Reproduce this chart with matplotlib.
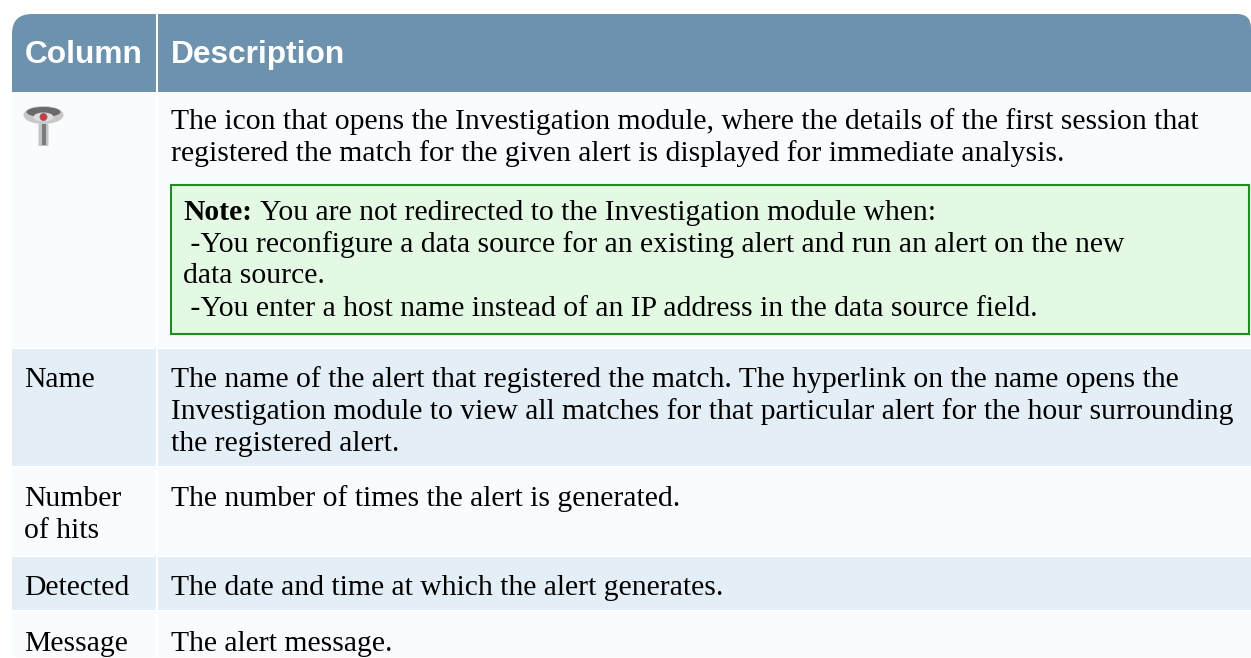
#!/usr/bin/env python3
import matplotlib
matplotlib.use("Agg")
import matplotlib.pyplot as plt
from matplotlib.patches import Rectangle, PathPatch, Ellipse, FancyBboxPatch
from matplotlib.path import Path

W, H = 1251, 658

HEADERS = ["Column", "Description"]
ROW_NAMES = ["", "Name", "Number\nof hits", "Detected", "Message"]
ROW_DESC = [
    "The icon that opens the Investigation module, where the details of the first session that\n"
    "registered the match for the given alert is displayed for immediate analysis.",
    "The name of the alert that registered the match. The hyperlink on the name opens the\n"
    "Investigation module to view all matches for that particular alert for the hour surrounding\n"
    "the registered alert.",
    "The number of times the alert is generated.",
    "The date and time at which the alert generates.",
    "The alert message.",
]
NOTE_LINES = [
    "You are not redirected to the Investigation module when:",
    " -You reconfigure a data source for an existing alert and run an alert on the new",
    "data source.",
    " -You enter a host name instead of an IP address in the data source field.",
]

HEAD_COL = "#6d92ae"
ODD_COL = "#f9fcff"
EVEN_COL = "#e3eef6"
NOTE_COL = "#e3f9e3"
NOTE_EDGE = "#228b22"
FS = 21.3

ROW_TOPS = [92, 349, 467, 557, 611]
ROW_BOTS = [349, 467, 557, 611, 658]
TEXT_Y = [129, 387, 506, 595, 651]
NOTE_Y = [220, 252, 283, 316]

fig = plt.figure(figsize=(W / 100, H / 100), dpi=100)
ax = fig.add_axes([0, 0, 1, 1])
ax.set_xlim(0, W)
ax.set_ylim(H, 0)
ax.axis("off")


def rect(x0, y0, x1, y1, color):
    ax.add_patch(Rectangle((x0, y0), x1 - x0, y1 - y0, facecolor=color, edgecolor="none"))


def header_shape(x0, y0, x1, y1, rl, rr, color):
    # header cell with rounded outer corners
    verts = [(x0, y1), (x0, y0 + rl), (x0, y0), (x0 + rl, y0), (x1 - rr, y0),
             (x1, y0), (x1, y0 + rr), (x1, y1), (x0, y1)]
    codes = [Path.MOVETO, Path.LINETO, Path.CURVE3, Path.CURVE3, Path.LINETO,
             Path.CURVE3, Path.CURVE3, Path.LINETO, Path.CLOSEPOLY]
    ax.add_patch(PathPatch(Path(verts, codes), facecolor=color, edgecolor="none"))


def serif(x, y, s, **kw):
    ax.text(x, y, s, family="Liberation Serif", fontsize=FS, color="#000000",
            va="baseline", ha="left", **kw)


# header
header_shape(12, 14, 156, 92, 20, 0, HEAD_COL)
header_shape(158, 14, 1251, 92, 0, 14, HEAD_COL)
ax.text(25, 63, HEADERS[0], family="Liberation Sans", weight="bold", fontsize=22.8,
        color="white", va="baseline")
ax.text(171, 63, HEADERS[1], family="Liberation Sans", weight="bold", fontsize=22.8,
        color="white", va="baseline")

# rows
for i in range(len(ROW_DESC)):
    c = EVEN_COL if i % 2 else ODD_COL
    rect(12, ROW_TOPS[i], 156, ROW_BOTS[i] - 1, c)
    rect(158, ROW_TOPS[i], W, ROW_BOTS[i] - 1, c)
    for j, line in enumerate(ROW_NAMES[i].split("\n")):
        serif(24.5, TEXT_Y[i] + j * 32, line)
    for j, line in enumerate(ROW_DESC[i].split("\n")):
        serif(171, TEXT_Y[i] + j * 32, line)

# note box
ax.add_patch(Rectangle((171, 185), 1078, 149, facecolor=NOTE_COL, edgecolor=NOTE_EDGE, linewidth=1.5))
t = ax.text(183, NOTE_Y[0], "Note:", family="Liberation Serif", weight="bold", fontsize=FS, va="baseline")
fig.canvas.draw()
bb = t.get_window_extent()
serif(bb.x1 + 8, NOTE_Y[0], NOTE_LINES[0])
for y, line in zip(NOTE_Y[1:], NOTE_LINES[1:]):
    serif(183, y, line)

# investigate icon
ax.add_patch(FancyBboxPatch((39.5, 125), 8, 20, boxstyle="round,pad=1", facecolor="#c4c4c4",
                            edgecolor="none"))
rect(41.5, 124, 45.5, 145, "#7a7a7a")
ax.add_patch(Ellipse((43.5, 115), 40, 18, facecolor="#c8c8c8", edgecolor="none"))
ax.add_patch(Ellipse((43.5, 112), 34, 10, facecolor="#6a6a6a", edgecolor="none"))
ax.add_patch(Ellipse((43.5, 117), 20, 9, facecolor="#dedede", edgecolor="none"))
ax.add_patch(Ellipse((43.5, 117), 7, 7, facecolor="#e0313a", edgecolor="#707070", linewidth=0.6))

fig.savefig("out.png", dpi=100, facecolor="white")
